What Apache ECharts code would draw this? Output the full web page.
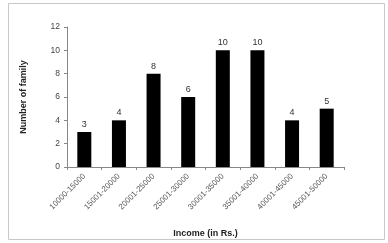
<!DOCTYPE html>
<html><head><meta charset="utf-8">
<script src="https://cdn.jsdelivr.net/npm/echarts@6/dist/echarts.min.js"></script>
<style>html,body{margin:0;padding:0;background:#fff}#c{width:388px;height:243px}</style>
</head><body><div id="c"></div>
<script>
var categories = ["10000-15000","15001-20000","20001-25000","25001-30000","30001-35000","35001-40000","40001-45000","45001-50000"];
var families = [3,4,8,6,10,10,4,5];
var yTicks = [0,2,4,6,8,10,12];

var chart = echarts.init(document.getElementById('c'), null, {renderer:'canvas'});
chart.setOption({
  animation:false,
  backgroundColor:'#fff',
  graphic:[{type:'rect',shape:{x:8.5,y:3.5,width:376,height:236},style:{fill:'none',stroke:'#c8c8c8',lineWidth:1}}],
  grid:{left:67,right:44,top:27,bottom:73},
  xAxis:{
    type:'category',data:categories,
    name:'Income (in Rs.)',nameLocation:'middle',nameGap:62,
    nameTextStyle:{fontFamily:'Liberation Sans',fontWeight:'bold',fontSize:9,color:'#222'},
    axisLine:{lineStyle:{color:'#888',width:1}},
    axisTick:{show:true,length:3,lineStyle:{color:'#888'}},
    axisLabel:{rotate:45,fontSize:8,color:'#555',fontFamily:'Liberation Sans',margin:8,interval:0}
  },
  yAxis:{
    type:'value',min:yTicks[0],max:yTicks[yTicks.length-1],interval:2,
    name:'Number of family',nameLocation:'middle',nameGap:39,
    nameTextStyle:{fontFamily:'Liberation Sans',fontWeight:'bold',fontSize:9,color:'#222'},
    axisLine:{show:true,lineStyle:{color:'#888',width:1}},
    axisTick:{show:true,length:3,lineStyle:{color:'#888'}},
    splitLine:{show:false},
    axisLabel:{fontSize:8.5,color:'#444',fontFamily:'Liberation Sans',margin:7}
  },
  series:[{
    type:'bar',data:families,barWidth:14,
    itemStyle:{color:'#000'},
    label:{show:true,position:'top',fontSize:9,color:'#333',fontFamily:'Liberation Sans',distance:3}
  }]
});
</script></body></html>
